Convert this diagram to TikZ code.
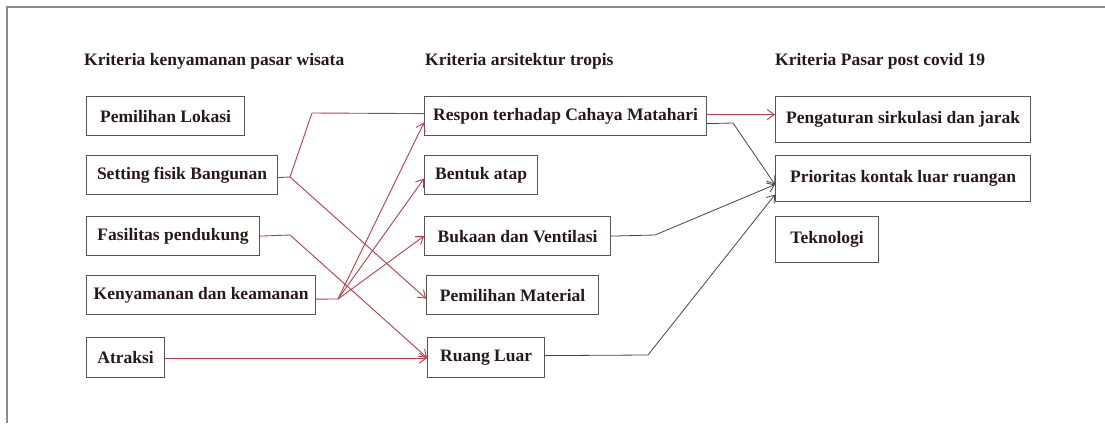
\documentclass[tikz,border=0pt]{standalone}
\usepackage{fontspec}
\setmainfont{Liberation Serif}
\usepackage{tikz}
\usetikzlibrary{arrows.meta,positioning}
\definecolor{linkred}{RGB}{182,62,74}
\definecolor{boxgray}{RGB}{85,85,85}
\definecolor{inkdark}{RGB}{40,25,25}
\definecolor{framegray}{RGB}{140,140,140}
\tikzset{
  critbox/.style={ draw=boxgray, line width=1.2pt, anchor=north west, inner sep=0pt, minimum height=39pt, text=inkdark, font=\bfseries\fontsize{17.5}{20}\selectfont }
}
\tikzset{
  colhead/.style={ anchor=west, inner sep=0pt, text=inkdark, font=\bfseries\fontsize{17.5}{20}\selectfont }
}
\tikzset{
  redlink/.style={ draw=linkred, line width=0.9pt, -{Straight Barb[length=7pt,width=10pt]} }
}
\tikzset{
  greylink/.style={ draw=boxgray!80!black, line width=0.8pt, -{Straight Barb[length=7pt,width=10pt]} }
}

\begin{document}
\begin{tikzpicture}[x=1pt, y=-1pt]
        \useasboundingbox (0,0) rectangle (1105,423);
        % frame
        \draw[framegray, line width=1.5pt] (7,423) -- (7,7) -- (1105,7);
        % column heads
        \node[colhead] (headA) at (84,61) {Kriteria kenyamanan pasar wisata};
        \node[colhead] (headB) at (425,61) {Kriteria arsitektur tropis};
        \node[colhead] (headC) at (775,61) {Kriteria Pasar post covid 19};
        % left column
        \node[critbox, minimum width=158] (lokasi) at (86,96) {Pemilihan Lokasi};
        \node[critbox, minimum width=191] (setting) at (86,155) {Setting fisik Bangunan};
        \node[critbox, minimum width=173] (fasilitas) at (86,216) {Fasilitas pendukung};
        \node[critbox, minimum width=229] (kenyamanan) at (86,275) {Kenyamanan dan keamanan};
        \node[critbox, minimum width=78, minimum height=40] (atraksi) at (86,337) {Atraksi};
        % middle column
        \node[critbox, minimum width=282] (respon) at (424,96) {Respon terhadap Cahaya Matahari};
        \node[critbox, minimum width=113] (atap) at (424,155) {Bentuk atap};
        \node[critbox, minimum width=186] (bukaan) at (424,216) {Bukaan dan Ventilasi};
        \node[critbox, minimum width=172] (material) at (426,275) {Pemilihan Material};
        \node[critbox, minimum width=117, minimum height=40] (ruang) at (427,337) {Ruang Luar};
        % right column
        \node[critbox, minimum width=255, minimum height=46] (pengaturan) at (775,96) {Pengaturan sirkulasi dan jarak};
        \node[critbox, minimum width=255, minimum height=46] (prioritas) at (775,155) {Prioritas kontak luar ruangan};
        \node[critbox, minimum width=103, minimum height=46] (teknologi) at (775,216) {Teknologi};
        % bends
        \coordinate (sbend) at (290,177);
        \coordinate (stop) at (312,113);
        \coordinate (fbend) at (290,235);
        \coordinate (kbend) at (338,299);
        \coordinate (rbend) at (733,123);
        \coordinate (bbend) at (655,235);
        \coordinate (lbend) at (648,355);
        % red links
        \draw[redlink, -] ([yshift=-2.5pt]setting.east) -- (sbend) -- (stop) -- ([yshift=2.5pt]respon.west);
        \draw[redlink] (sbend) -- ([yshift=-3.5pt]material.west);
        \draw[redlink] (fasilitas.east) -- (fbend) -- (ruang.west);
        \draw[redlink, -] ([yshift=-4pt]kenyamanan.east) -- (kbend);
        \draw[redlink] (kbend) -- ([yshift=-6.5pt]respon.west);
        \draw[redlink] (kbend) -- ([yshift=-3.5pt]atap.west);
        \draw[redlink] (kbend) -- (bukaan.west);
        \draw[redlink] ([yshift=-0.5pt]atraksi.east) -- ([yshift=-0.5pt]ruang.west);
        \draw[redlink] ([yshift=1.5pt]respon.east) -- ([yshift=5pt]pengaturan.west);
        % grey links
        \draw[greylink] ([yshift=-7.5pt]respon.east) -- (rbend) -- ([yshift=-6pt]prioritas.west);
        \draw[greylink] (bukaan.east) -- (bbend) -- ([yshift=-6pt]prioritas.west);
        \draw[greylink] ([yshift=2pt]ruang.east) -- (lbend) -- ([yshift=-16pt]prioritas.west);
      \end{tikzpicture}
\end{document}
